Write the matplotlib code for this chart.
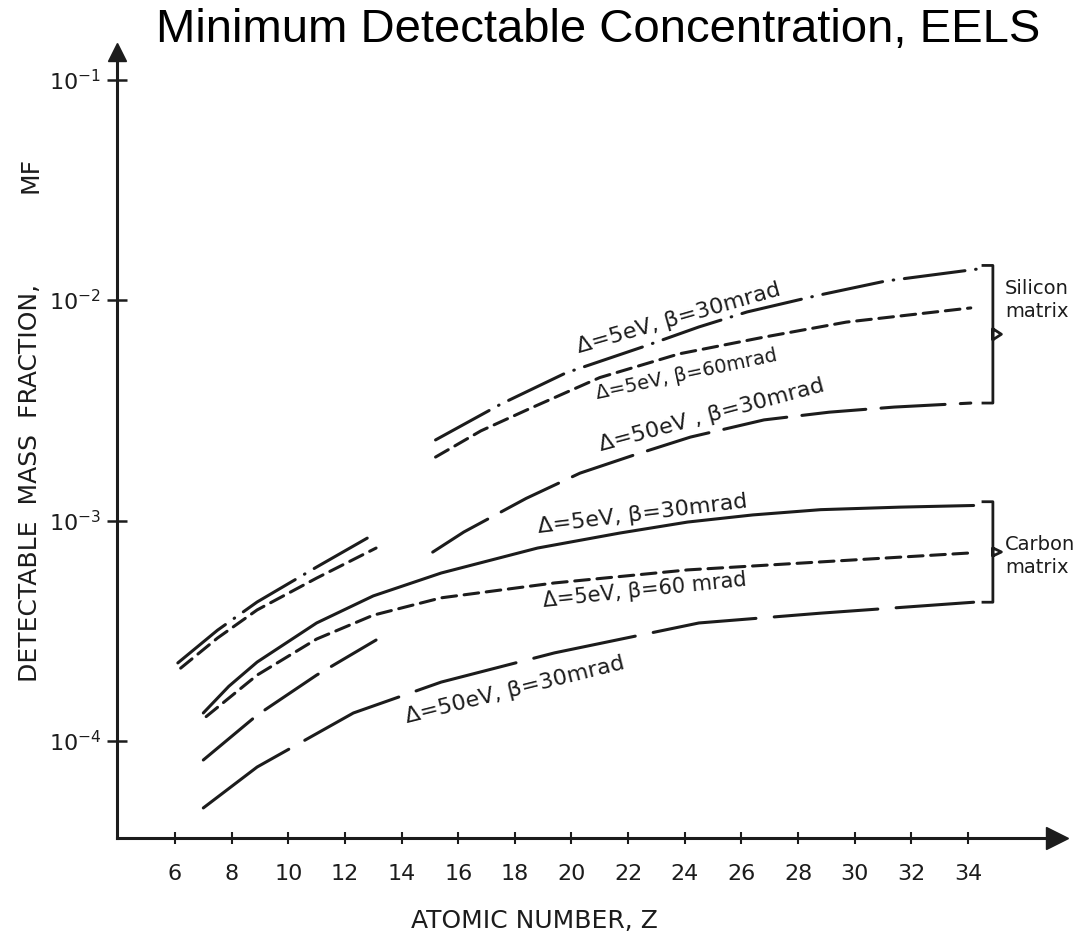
import numpy as np
import matplotlib
matplotlib.use("Agg")
import matplotlib.pyplot as plt

nan = np.nan

# carbon matrix curves (Z, mass fraction)
carbon_5_30_z = [7.0, 7.9, 8.9, 11.0, 13.0, 15.4, 18.8, 21.7, 24.1, 26.4, 28.8, 31.6, 34.2]
carbon_5_30_mf = [1.34e-4, 1.77e-4, 2.28e-4, 3.43e-4, 4.55e-4, 5.78e-4, 7.50e-4, 8.77e-4,
                  9.84e-4, 1.06e-3, 1.12e-3, 1.15e-3, 1.17e-3]

carbon_5_60_z = [7.1, 8.9, 11.0, 13.0, 15.4, 19.4, 24.1, 28.8, 34.1]
carbon_5_60_mf = [1.29e-4, 1.99e-4, 2.90e-4, 3.72e-4, 4.46e-4, 5.21e-4, 5.97e-4,
                  6.49e-4, 7.13e-4]

carbon_50_30_z = [7.0, 8.9, 12.3, 15.4, 19.4, 24.5, 28.8, 34.2]
carbon_50_30_mf = [4.97e-5, 7.62e-5, 1.34e-4, 1.85e-4, 2.51e-4, 3.43e-4, 3.80e-4, 4.26e-4]

# silicon matrix curves, no point at Z = 14
si_5_30_z = [6.1, 7.5, 8.9, 11.0, 13.1, 14.0,
             15.2, 17.5, 19.8, 22.5, 24.5, 26.2, 28.7, 31.1, 34.3]
si_5_30_mf = [2.26e-4, 3.18e-4, 4.27e-4, 6.15e-4, 8.77e-4, nan,
              2.32e-3, 3.37e-3, 4.67e-3, 6.12e-3, 7.55e-3, 8.83e-3, 1.05e-2, 1.22e-2, 1.38e-2]

si_5_60_z = [6.2, 7.5, 8.9, 11.0, 13.1, 14.0,
             15.2, 16.8, 18.6, 21.0, 23.8, 26.8, 29.7, 34.1]
si_5_60_mf = [2.14e-4, 2.93e-4, 3.93e-4, 5.48e-4, 7.50e-4, nan,
              1.94e-3, 2.55e-3, 3.25e-3, 4.45e-3, 5.70e-3, 6.79e-3, 7.94e-3, 9.21e-3]

si_50_30_z = [7.0, 8.9, 11.0, 13.1, 14.0,
              15.1, 16.2, 18.4, 20.3, 22.2, 24.2, 26.8, 29.1, 31.4, 34.1]
si_50_30_mf = [8.20e-5, 1.31e-4, 1.99e-4, 2.87e-4, nan,
               7.19e-4, 8.87e-4, 1.26e-3, 1.64e-3, 1.98e-3, 2.39e-3, 2.86e-3, 3.10e-3,
               3.27e-3, 3.41e-3]

x_ticks = list(range(6, 35, 2))
y_ticks = [1e-4, 1e-3, 1e-2, 1e-1]

ink = "#1c1c1c"
short_dash = (0, (4.8, 2.5))
long_dash = (0, (21, 5))
longer_dash = (0, (34, 6))
dash_dot = (0, (20, 3.5, 0.2, 3.5))

fig = plt.figure(figsize=(10.9, 9.39), dpi=100)
ax = fig.add_axes([117 / 1090, 101 / 939, 940 / 1090, 786 / 939])

ax.set_yscale("log")
ax.set_xlim(3.952, 37.144)
ax.set_ylim(10 ** -4.44, 10 ** -0.875)

curves = [
    (si_5_30_z, si_5_30_mf, dash_dot),
    (si_5_60_z, si_5_60_mf, short_dash),
    (si_50_30_z, si_50_30_mf, long_dash),
    (carbon_5_30_z, carbon_5_30_mf, "-"),
    (carbon_5_60_z, carbon_5_60_mf, short_dash),
    (carbon_50_30_z, carbon_50_30_mf, longer_dash),
]
for z, mf, ls in curves:
    ax.plot(z, mf, color=ink, lw=2.2, linestyle=ls,
            dash_capstyle="round", solid_capstyle="round", solid_joinstyle="round")

# curve labels
label_kw = dict(color=ink, ha="center", va="center", rotation_mode="anchor")
ax.text(23.8, 8.3e-3, "Δ=5eV, β=30mrad", fontsize=16, rotation=16, **label_kw)
ax.text(24.05, 4.6e-3, "Δ=5eV, β=60mrad", fontsize=14, rotation=12, **label_kw)
ax.text(24.96, 3.0e-3, "Δ=50eV , β=30mrad", fontsize=16, rotation=15, **label_kw)
ax.text(22.5, 1.07e-3, "Δ=5eV, β=30mrad", fontsize=16, rotation=7, **label_kw)
ax.text(22.6, 4.84e-4, "Δ=5eV, β=60 mrad", fontsize=15, rotation=6, **label_kw)
ax.text(18.0, 1.70e-4, "Δ=50eV, β=30mrad", fontsize=16, rotation=14, **label_kw)


# brackets grouping each matrix, spanning the curve ends
def bracket(ends, x):
    top, bottom = max(ends) * 1.04, min(ends)
    mid = np.sqrt(top * bottom)
    k = (top / bottom) ** 0.04
    ax.plot([x - 0.35, x, x, x + 0.3, x, x, x - 0.35],
            [top, top, mid / k, mid, mid * k, bottom, bottom],
            color=ink, lw=2.0, clip_on=False)


bracket([si_5_30_mf[-1], si_5_60_mf[-1], si_50_30_mf[-1]], 34.88)
bracket([carbon_5_30_mf[-1], carbon_5_60_mf[-1], carbon_50_30_mf[-1]], 34.88)
ax.text(35.3, 1.0e-2, "Silicon\nmatrix", fontsize=14, color=ink,
        ha="left", va="center", linespacing=1.25)
ax.text(35.3, 6.9e-4, "Carbon\nmatrix", fontsize=14, color=ink,
        ha="left", va="center", linespacing=1.25)

# axes drawn as two arrows
for side in ("top", "right"):
    ax.spines[side].set_visible(False)
for side in ("left", "bottom"):
    ax.spines[side].set_linewidth(2.2)
    ax.spines[side].set_color(ink)
ax.plot(1, 0, ">", ms=16, color=ink, transform=ax.transAxes, clip_on=False)
ax.plot(0, 1, "^", ms=13, color=ink, transform=ax.transAxes, clip_on=False)

ax.set_xticks(x_ticks)
ax.set_xticklabels([str(t) for t in x_ticks])
ax.set_yticks(y_ticks)
ax.set_yticklabels([r"$10^{%d}$" % int(np.log10(t)) for t in y_ticks])
ax.minorticks_off()
ax.tick_params(axis="x", direction="inout", length=9, width=1.5, colors=ink,
               labelsize=16, pad=14)
ax.tick_params(axis="y", direction="inout", length=15, width=1.8, colors=ink,
               labelsize=16, pad=4)

fig.text(598 / 1090, 1 - 42 / 939, "Minimum Detectable Concentration, EELS",
         family="Liberation Sans", fontsize=34, ha="center", va="baseline")
fig.text(534 / 1090, 1 - 921 / 939, "ATOMIC NUMBER, Z", fontsize=18,
         color=ink, ha="center", va="center")
fig.text(30 / 1090, 1 - 483 / 939, "DETECTABLE  MASS  FRACTION,", fontsize=18,
         color=ink, ha="center", va="center", rotation=90)
fig.text(30 / 1090, 1 - 175 / 939, "MF", fontsize=18,
         color=ink, ha="center", va="center", rotation=90)

fig.savefig("out.png", dpi=100, facecolor="white")
